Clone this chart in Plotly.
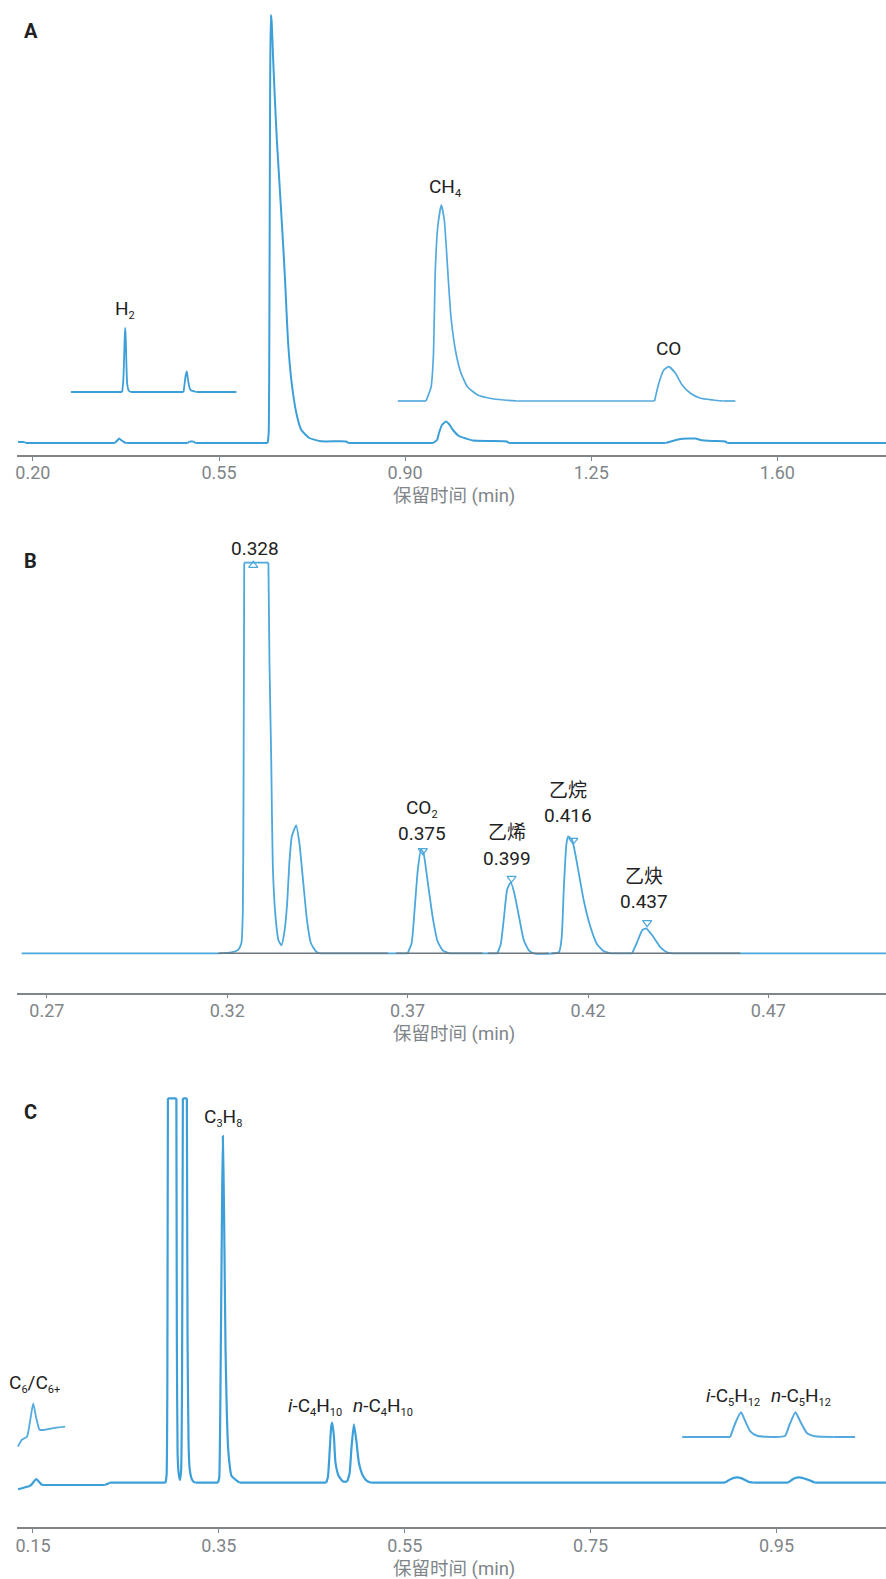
import plotly.graph_objects as go

W, H = 886, 1579
BLUE = "#3d9fd8"
GREY = "#7f8589"
FONT = "Roboto, 'Noto Sans CJK SC', sans-serif"

# --- panel A ---
a_time = [0.172, 0.184, 0.187, 0.354, 0.3595, 0.362, 0.367, 0.3727, 0.376, 0.491, 0.4946, 0.502, 0.5055,
          0.6416, 0.6434, 0.6443, 0.6452, 0.6461, 0.6474, 0.6489, 0.6517, 0.6554, 0.6591, 0.6648, 0.6704, 0.6742,
          0.6796, 0.686, 0.6954, 0.7048, 0.7198, 0.7423, 0.7892, 0.793,
          0.9525, 0.96, 0.9637, 0.9693, 0.9769, 0.9825, 0.99, 1.0012, 1.0144, 1.0275, 1.0613, 1.0913, 1.095,
          1.3897, 1.4029, 1.4179, 1.4461, 1.4554, 1.4779, 1.5023, 1.506, 1.8044]
a_signal = [1, 1, 0, 0, 3, 4.5, 2.5, 0.5, 0, 0, 1.5, 1.5, 0,
            0, 10, 60, 200, 350, 428, 422, 385, 340, 300, 250, 200, 163,
            103, 63, 30, 13, 5, 1.7, 1.5, 0,
            0, 3, 10, 18, 21.5, 19, 13, 7, 4.5, 2.5, 2, 1.5, 0,
            0, 2, 4, 4.5, 3, 2, 1.5, 0, 0]

h2_time = [0.2713, 0.3679, 0.3698, 0.3713, 0.3726, 0.3736, 0.3745, 0.376, 0.3773, 0.3801, 0.3839,
           0.4833, 0.4852, 0.4871, 0.4894, 0.4909, 0.4937, 0.4965, 0.504, 0.5078, 0.5828]
h2_signal = [0, 0, 10, 30, 55, 64, 55, 25, 8, 1.5, 0,
             0, 8, 16, 20.5, 15, 6, 2, 0.5, 0, 0]

ch4_time = [0.8862, 0.9393, 0.9488, 0.9531, 0.9568, 0.9613, 0.9681, 0.9737, 0.9801, 0.9862, 0.9956, 1.005,
            1.0176, 1.0364, 1.0613, 1.0857, 1.1114, 1.3691, 1.3771, 1.3865, 1.396, 1.4085, 1.421, 1.4366,
            1.4554, 1.4798, 1.4986, 1.5211]
ch4_signal = [0, 0, 14, 44, 131, 174, 196, 181, 131, 84, 48, 28,
              14, 6, 2.5, 1, 0, 0, 17.7, 31, 34.3, 27.7, 16, 7.7,
              2.7, 1, 0, 0]

a_ticks = [0.20, 0.55, 0.90, 1.25, 1.60]
a_label_text = ["H<sub>2</sub>", "CH<sub>4</sub>", "CO"]
a_label_time = [0.3733, 0.975, 1.3953]
a_label_signal = [134, 256, 95]

# --- panel B ---
b_time = [0.263, 0.3175, 0.3211, 0.323, 0.3239, 0.3243, 0.3245, 0.3247, 0.3314, 0.3317, 0.3322, 0.3326,
          0.3333, 0.3342, 0.335, 0.3359, 0.3366, 0.3372, 0.3379, 0.3391, 0.34, 0.3409, 0.3421, 0.3432, 0.3446, 0.3455,
          0.37, 0.3711, 0.372, 0.3728, 0.3737, 0.3744, 0.3755, 0.3769, 0.3783, 0.3797, 0.3815,
          0.3949, 0.3958, 0.3967, 0.3976, 0.3986, 0.3995, 0.4009, 0.4022, 0.4036, 0.405,
          0.4119, 0.4127, 0.4133, 0.414, 0.4145, 0.4156, 0.417, 0.4188, 0.4207, 0.4225, 0.4244, 0.4262,
          0.4322, 0.4336, 0.435, 0.4361, 0.4378, 0.4401, 0.4419, 0.4433, 0.5026]
b_signal = [0, 0, 1, 3.5, 10, 40, 157, 390.6, 390.6, 290, 190, 90,
            40, 13, 8, 23, 50, 90, 117, 128, 110, 77, 33, 10, 2, 0,
            0, 10, 47, 83, 104, 100, 73, 37, 12, 3, 0,
            0, 9, 36, 64, 71, 61, 36, 13, 3, 0,
            1, 16, 66, 109, 117, 113, 89, 53, 26, 9, 2, 0,
            0, 11, 23, 25, 18, 6, 1, 0, 0]

# integration baselines, gaps between the runs
base_time = [0.3175, 0.3645, None, 0.3668, 0.3908, None, 0.3922, 0.4091, None, 0.4099, 0.4622]
base_signal = [0, 0, None, 0, 0, None, 0, 0, None, 0, 0]

marker_time = [0.3272, 0.3742, 0.3988, 0.4159, 0.4364]
marker_signal = [388, 102.6, 75, 113, 30.6]
marker_kind = ["triangle-up-open", "triangle-down-open", "triangle-down-open", "triangle-down-open", "triangle-down-open"]

b_ticks = [0.27, 0.32, 0.37, 0.42, 0.47]
b_label_text = ["0.328", "CO<sub>2</sub>", "0.375", "乙烯", "0.399", "乙烷", "0.416", "乙炔", "0.437"]
b_label_time = [0.3277, 0.3741, 0.3741, 0.3976, 0.3976, 0.4145, 0.4145, 0.4356, 0.4356]
b_label_signal = [405, 145, 120, 120.6, 95, 162.6, 138, 76.6, 52]

# --- panel C ---
c_time = [0.1339, 0.1382, 0.1457, 0.1479, 0.15, 0.1535, 0.1564, 0.1597, 0.1607, 0.2273, 0.2327,
          0.2928, 0.2938, 0.2946, 0.2952, 0.3043, 0.3048, 0.3056, 0.3067, 0.3081, 0.3094, 0.3104, 0.3113,
          0.3156, 0.3163, 0.3174, 0.3185, 0.3207, 0.3228, 0.325,
          0.3491, 0.3504, 0.3513, 0.3521, 0.3534, 0.3543, 0.3556, 0.3572, 0.3586, 0.3601, 0.3636, 0.3722,
          0.4656, 0.4674, 0.4695, 0.4709, 0.472, 0.4738, 0.4755, 0.4788, 0.4835, 0.4881, 0.4906, 0.4928,
          0.4953, 0.4978, 0.5007, 0.505, 0.5096, 0.5139,
          0.8945, 0.9, 0.9072, 0.9126, 0.9197, 0.925, 0.9625, 0.9683, 0.9747, 0.9827, 0.9916, 1.0678]
c_signal = [-6.6, -5.5, -3.5, -2.5, 0, 3.7, 1, -2, -2.3, -2.3, 0,
            0, 8, 100, 384.4, 384.4, 150, 30, 10, 2.7, 12, 100, 384.4,
            384.4, 150, 40, 15, 4, 1, 0,
            0, 5, 50, 133, 272, 346.7, 272, 133, 70, 33, 7, 0,
            0, 6, 36, 56, 60, 46, 20, 7, 1, 1, 9, 36,
            58.4, 43, 20, 7, 1.5, 0,
            0, 3.3, 5.3, 4.3, 1, 0, 0, 4, 5.3, 3.3, 0, 0]

c6_time = [0.1339, 0.1382, 0.1436, 0.1471, 0.1503, 0.1535, 0.1568, 0.1618, 0.1704, 0.1847]
c6_signal = [-20, -13, -10, 6.7, 23.3, 8.7, -3.3, -3.3, -1.7, 0]

c5_time = [0.8485, 0.9003, 0.9057, 0.9118, 0.9164, 0.9218, 0.929, 0.9486, 0.9593, 0.964, 0.9704, 0.9755,
           0.9827, 0.9916, 1.0112, 1.0345]
c5_signal = [0, 0, 14, 24.7, 15.7, 5.7, 1.3, 0, 1.3, 12.3, 24.7, 15.7,
             4, 0.7, 0, 0]

c_ticks = [0.15, 0.35, 0.55, 0.75, 0.95]
c_label_text = ["C<sub>3</sub>H<sub>8</sub>", "C<sub>6</sub>/C<sub>6+</sub>", "<i>i</i>-C<sub>4</sub>H<sub>10</sub>",
                "<i>n</i>-C<sub>4</sub>H<sub>10</sub>", "<i>i</i>-C<sub>5</sub>H<sub>12</sub>", "<i>n</i>-C<sub>5</sub>H<sub>12</sub>"]
c_label_time = [0.354, 0.1521, 0.4538, 0.5264, 0.9034, 0.9762]
c_label_signal = [365, 99.7, 76, 76, 86, 86]

# how far the enlarged insets are lifted above the main trace
H2_LIFT = 51
CH4_LIFT = 42
C6_LIFT = 56
C5_LIFT = 45.7


def lifted(values, lift):
    return [v + lift for v in values]


def py(pixel):
    return 1 - pixel / H


def piece(x, y, n, line):
    fig.add_trace(go.Scatter(x=x, y=y, mode="lines", xaxis=f"x{n}", yaxis=f"y{n}", line=line, hoverinfo="skip"))


def curve(x, y, n, width=2, color=BLUE):
    # flat stretches go straight, only the peaks between them get the spline (it overshoots otherwise)
    straight = dict(color=color, width=width)
    smooth = dict(color=color, width=width, shape="spline", smoothing=0.5)
    start = 0
    for i in range(len(x) - 1):
        if y[i] == y[i + 1]:
            if i > start:
                piece(x[start:i + 1], y[start:i + 1], n, smooth)
            piece(x[i:i + 2], y[i:i + 2], n, straight)
            start = i + 1
    if start < len(x) - 1:
        piece(x[start:], y[start:], n, smooth)


def small_subs(text):
    # plotly's own sub size is too big next to the reference
    return text.replace("<sub>", '<sub><span style="font-size:11px">').replace("</sub>", "</span></sub>")


def labels(text, x, y, n):
    for t, tx, ty in zip(text, x, y):
        fig.add_annotation(text=small_subs(t), x=tx, y=ty, xref=f"x{n}", yref=f"y{n}", showarrow=False,
                           font=dict(family=FONT, size=19, color="#222222"),
                           xanchor="center", yanchor="middle")


def x_axis(ticks, rng, anchor):
    return dict(domain=[15 / W, 1], range=rng, anchor=anchor, tickvals=ticks,
                ticktext=[f"{t:.2f}" for t in ticks], ticks="outside", ticklen=4, tickwidth=1,
                ticklabelstandoff=-3, tickcolor=GREY, showline=True, linecolor=GREY, linewidth=1.5,
                showgrid=False, zeroline=False, tickfont=dict(family=FONT, size=18, color=GREY))


def y_axis(top, bottom, rng):
    return dict(domain=[py(bottom), py(top)], range=rng, visible=False)


fig = go.Figure()

curve(a_time, a_signal, 1)
curve(h2_time, lifted(h2_signal, H2_LIFT), 1, width=1.8)
curve(ch4_time, lifted(ch4_signal, CH4_LIFT), 1, width=1.7, color="#54aade")
labels(a_label_text, a_label_time, a_label_signal, 1)

curve(b_time, b_signal, 2, width=1.8, color="#4ba7dc")
piece(base_time, base_signal, 2, dict(color="#6b767d", width=1.6))
fig.add_trace(go.Scatter(x=marker_time, y=marker_signal, mode="markers", xaxis="x2", yaxis="y2", hoverinfo="skip",
                         marker=dict(symbol=marker_kind, size=8, color="#4ba7dc", line=dict(width=1.2, color="#4ba7dc"))))
labels(b_label_text, b_label_time, b_label_signal, 2)

curve(c_time, c_signal, 3, width=2.2)
curve(c6_time, lifted(c6_signal, C6_LIFT), 3, width=1.8, color="#54aade")
curve(c5_time, lifted(c5_signal, C5_LIFT), 3, width=2, color="#54aade")
labels(c_label_text, c_label_time, c_label_signal, 3)

for letter, pixel in zip(["A", "B", "C"], [31, 561, 1112]):
    fig.add_annotation(text=f"<b>{letter}</b>", x=20 / W, y=py(pixel), xref="paper", yref="paper", showarrow=False,
                       xanchor="left", yanchor="middle", font=dict(family=FONT, size=20, color="#222222"))

# axis titles sit as annotations, the last one would get clamped at the page bottom otherwise
for pixel in [496, 1034, 1569]:
    fig.add_annotation(text="保留时间 (min)", x=453 / W, y=py(pixel), xref="paper", yref="paper", showarrow=False,
                       xanchor="center", yanchor="middle", font=dict(family=FONT, size=18.5, color=GREY))

fig.update_layout(
    width=W, height=H, margin=dict(l=0, r=0, t=0, b=0), showlegend=False,
    paper_bgcolor="white", plot_bgcolor="white",
    xaxis=x_axis(a_ticks, [0.17, 1.8044], "y"),
    yaxis=y_axis(10, 455, [-12, 433]),
    xaxis2=x_axis(b_ticks, [0.2617, 0.5026], "y2"),
    yaxis2=y_axis(530, 992.7, [-39.4, 423.3]),
    xaxis3=x_axis(c_ticks, [0.1328, 1.0678], "y3"),
    yaxis3=y_axis(1085, 1527.3, [-44.6, 397.7]),
)

fig.write_html("out.html", config={"displayModeBar": False},
               post_script="document.body.style.margin='0';")
